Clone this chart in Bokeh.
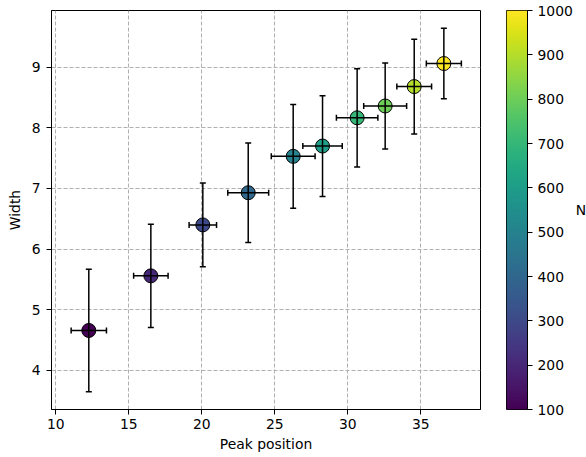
import numpy as np
from bokeh.plotting import figure
from bokeh.models import (ColumnDataSource, LinearColorMapper, Whisker, TeeHead,
                          Range1d, FixedTicker)
from bokeh.transform import linear_cmap
from bokeh.palettes import Viridis256
from bokeh.layouts import row
from bokeh.embed import file_html
from bokeh.resources import INLINE

# ---- data ----
peak_position = [12.26, 16.51, 20.07, 23.18, 26.26, 28.27, 30.64, 32.56, 34.55, 36.58]
peak_err = [1.21, 1.18, 0.94, 1.40, 1.50, 1.35, 1.42, 1.47, 1.19, 1.20]
width_vals = [4.66, 5.56, 6.40, 6.93, 7.53, 7.70, 8.165, 8.36, 8.68, 9.06]
width_err = [1.01, 0.85, 0.69, 0.82, 0.855, 0.83, 0.81, 0.71, 0.78, 0.58]
n_vals = [100, 200, 300, 400, 500, 600, 700, 800, 900, 1000]

x_ticks = [10, 15, 20, 25, 30, 35]
y_ticks = [4, 5, 6, 7, 8, 9]
cb_ticks = [100, 200, 300, 400, 500, 600, 700, 800, 900, 1000]

FONT = "DejaVu Sans"
FS = "13.9px"

TOP = 10
BOTTOM = 48
FH = 399

src = ColumnDataSource(dict(
    x=peak_position, y=width_vals, n=n_vals,
    xlo=[a - b for a, b in zip(peak_position, peak_err)],
    xhi=[a + b for a, b in zip(peak_position, peak_err)],
    ylo=[a - b for a, b in zip(width_vals, width_err)],
    yhi=[a + b for a, b in zip(width_vals, width_err)],
))

p = figure(frame_width=429, frame_height=FH,
           x_range=Range1d(9.705, 39.09), y_range=Range1d(3.357, 9.934),
           output_backend="svg", toolbar_location=None,
           min_border_left=51, min_border_right=16,
           min_border_top=TOP, min_border_bottom=BOTTOM)
p.background_fill_color = "white"
p.outline_line_color = "black"
p.outline_line_alpha = 1
p.outline_line_width = 1

p.xaxis.ticker = FixedTicker(ticks=x_ticks)
p.yaxis.ticker = FixedTicker(ticks=y_ticks)
p.xaxis.axis_label = "Peak position"
p.yaxis.axis_label = "Width"
for ax in (p.xaxis, p.yaxis):
    ax.axis_line_color = "black"
    ax.axis_line_width = 1
    ax.major_tick_line_color = "black"
    ax.major_tick_out = 5
    ax.major_tick_in = 0
    ax.minor_tick_out = 0
    ax.minor_tick_in = 0
    ax.major_label_text_font = FONT
    ax.major_label_text_font_size = FS
    ax.major_label_text_color = "black"
    ax.axis_label_text_font = FONT
    ax.axis_label_text_font_size = FS
    ax.axis_label_text_font_style = "normal"
    ax.axis_label_text_color = "black"
p.xaxis.major_label_standoff = 4
p.xaxis.axis_label_standoff = 4
p.yaxis.major_label_standoff = 6
p.yaxis.axis_label_standoff = 6

p.grid.grid_line_color = "#b0b0b0"
p.grid.grid_line_dash = "4 2"
p.grid.grid_line_width = 1

p.scatter("x", "y", source=src, size=14,
          fill_color=linear_cmap("n", Viridis256, 100, 1000),
          line_color="black", line_width=1)

head = dict(size=6, line_color="black", line_width=1.5)
p.add_layout(Whisker(base="x", lower="ylo", upper="yhi", dimension="height",
                     source=src, line_color="black", line_width=1.5,
                     upper_head=TeeHead(**head), lower_head=TeeHead(**head),
                     level="annotation"))
p.add_layout(Whisker(base="y", lower="xlo", upper="xhi", dimension="width",
                     source=src, line_color="black", line_width=1.5,
                     upper_head=TeeHead(**head), lower_head=TeeHead(**head),
                     level="annotation"))

# ---- colorbar figure ----
cb = figure(frame_width=21, frame_height=FH,
            x_range=Range1d(0, 1), y_range=Range1d(100, 1000),
            y_axis_location="right",
            output_backend="svg", toolbar_location=None,
            min_border_left=10, min_border_right=57,
            min_border_top=TOP, min_border_bottom=BOTTOM)
cb.xaxis.visible = False
cb.grid.visible = False
cb.outline_line_color = "black"
cb.outline_line_alpha = 1
levels = np.linspace(100, 1000, 256).reshape(-1, 1)
cb.image(image=[levels], x=0, y=100, dw=1, dh=900,
         color_mapper=LinearColorMapper(palette=Viridis256, low=100, high=1000))
ya = cb.yaxis[0]
ya.ticker = FixedTicker(ticks=cb_ticks)
ya.axis_line_color = "black"
ya.major_tick_line_color = "black"
ya.major_tick_out = 5
ya.major_tick_in = 0
ya.minor_tick_out = 0
ya.minor_tick_in = 0
ya.major_label_text_font = FONT
ya.major_label_text_font_size = FS
ya.major_label_text_color = "black"
ya.major_label_standoff = 5
ya.axis_label = "N"
ya.axis_label_orientation = "horizontal"
ya.axis_label_text_font = FONT
ya.axis_label_text_font_size = FS
ya.axis_label_text_font_style = "normal"
ya.axis_label_text_color = "black"
ya.axis_label_standoff = 0

layout = row(p, cb)
open("out.html", "w").write(file_html(layout, INLINE))
